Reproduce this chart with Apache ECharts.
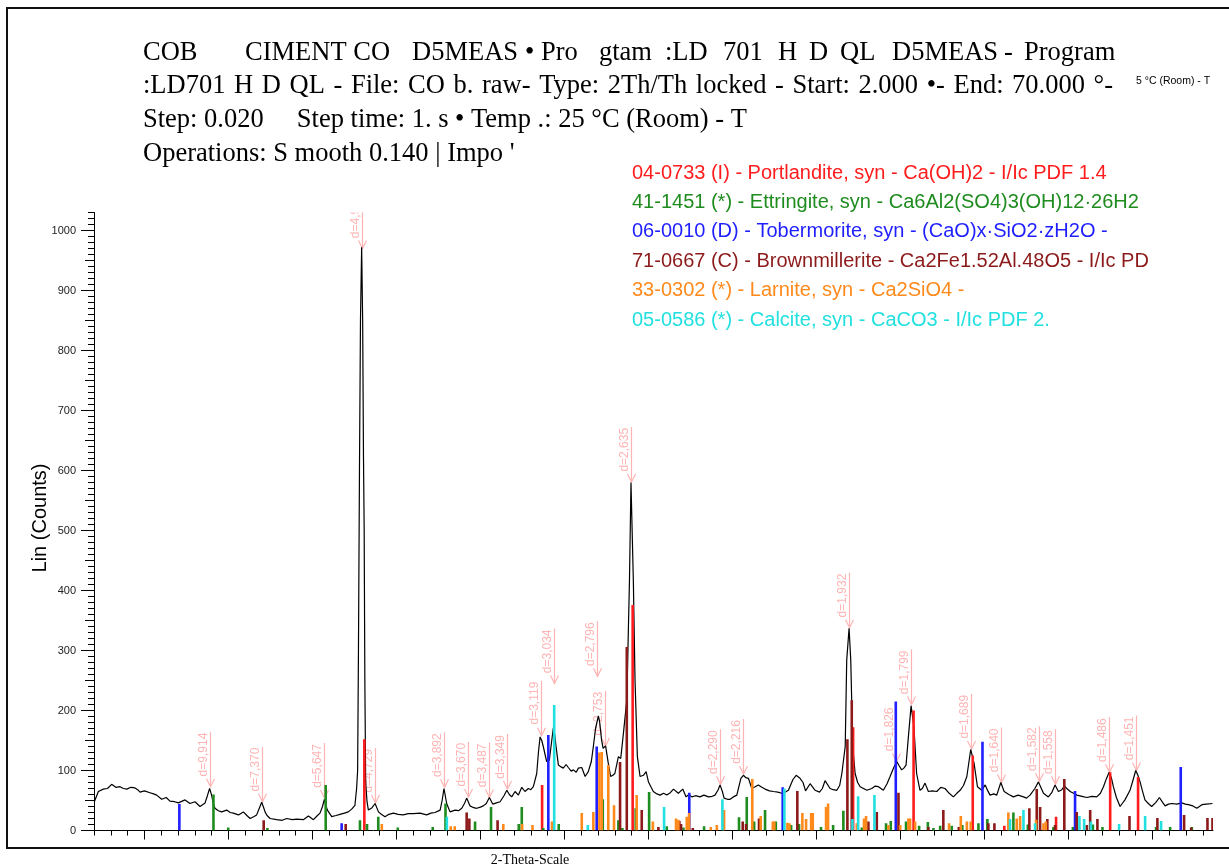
<!DOCTYPE html>
<html>
<head>
<meta charset="utf-8">
<script src="https://cdn.jsdelivr.net/npm/echarts@6/dist/echarts.min.js"></script>
<style>
  html, body { margin: 0; padding: 0; background: #ffffff; }
  #chart { width: 1229px; height: 868px; }
</style>
</head>
<body>
<div id="chart"></div>
<script>
// Diffractogram: [2-theta (deg), intensity (counts)]
const scan = [
  [2.02, 48], [2.06, 51], [2.26, 65], [2.55, 69], [2.8, 70], [3.05, 77], [3.3, 72], [3.55, 73], [3.75, 70],
  [3.95, 69], [4.2, 72], [4.44, 71], [4.6, 68], [4.74, 64], [5.0, 66], [5.33, 63], [5.55, 61], [5.73, 59],
  [6.03, 52], [6.3, 55], [6.52, 49], [6.8, 48], [7.02, 46], [7.25, 49], [7.42, 51], [7.71, 45], [8.01, 48],
  [8.31, 40], [8.61, 46], [8.75, 58], [8.88, 70], [9.0, 59], [9.1, 45], [9.2, 37], [9.4, 33], [9.6, 31],
  [9.9, 34], [10.1, 30], [10.29, 29], [10.6, 26], [10.89, 31], [11.1, 25], [11.29, 20], [11.5, 23],
  [11.68, 26], [11.85, 38], [11.98, 47], [12.1, 38], [12.18, 31], [12.3, 25], [12.48, 20], [12.87, 18],
  [13.2, 17], [13.47, 20], [13.8, 18], [14.07, 19], [14.46, 18], [14.76, 24], [15.06, 18], [15.3, 25],
  [15.45, 29], [15.6, 40], [15.71, 52], [15.8, 42], [15.89, 34], [16.15, 23], [16.4, 25], [16.64, 27],
  [16.9, 29], [17.14, 31], [17.35, 36], [17.53, 42], [17.63, 70], [17.69, 100], [17.74, 300], [17.8, 600],
  [17.86, 850], [17.93, 972], [17.99, 850], [18.04, 620], [18.08, 500], [18.12, 250], [18.17, 80],
  [18.25, 48], [18.33, 34], [18.55, 38], [18.73, 45], [18.93, 31], [19.1, 27], [19.32, 23], [19.55, 27],
  [19.82, 29], [20.1, 27], [20.41, 26], [20.7, 28], [21.01, 28], [21.4, 29], [21.8, 26], [22.05, 29],
  [22.3, 30], [22.6, 34], [22.72, 50], [22.83, 70], [22.99, 45], [23.19, 31], [23.49, 34], [23.7, 33],
  [23.89, 37], [24.05, 45], [24.18, 54], [24.38, 41], [24.6, 38], [24.78, 37], [25.0, 39], [25.17, 41],
  [25.35, 45], [25.53, 55], [25.73, 44], [25.95, 46], [26.17, 48], [26.4, 58], [26.57, 67], [26.72, 60],
  [26.86, 56], [27.06, 65], [27.26, 59], [27.46, 72], [27.65, 65], [27.85, 70], [28.0, 68], [28.15, 73],
  [28.35, 95], [28.45, 130], [28.55, 156], [28.65, 150], [28.74, 140], [28.94, 115], [29.1, 117],
  [29.2, 140], [29.34, 171], [29.42, 160], [29.5, 140], [29.64, 109], [29.8, 106], [29.93, 104],
  [30.1, 110], [30.23, 105], [30.4, 99], [30.53, 101], [30.7, 97], [30.83, 104], [31.03, 105], [31.23, 90],
  [31.42, 98], [31.6, 115], [31.72, 140], [31.85, 170], [32.02, 191], [32.1, 180], [32.21, 151],
  [32.3, 137], [32.45, 141], [32.61, 112], [32.75, 90], [32.88, 92], [33.0, 95], [33.21, 123],
  [33.35, 120], [33.51, 162], [33.71, 217], [33.87, 417], [33.96, 580], [34.1, 417], [34.2, 251],
  [34.34, 123], [34.5, 90], [34.7, 92], [34.86, 98], [35.0, 81], [35.29, 65], [35.5, 61], [35.69, 59],
  [35.9, 62], [36.09, 59], [36.3, 63], [36.49, 69], [36.78, 62], [37.04, 69], [37.24, 56], [37.4, 60],
  [37.58, 56], [37.8, 58], [38.07, 56], [38.3, 59], [38.57, 56], [38.8, 57], [38.96, 59], [39.15, 68],
  [39.26, 76], [39.4, 65], [39.5, 54], [39.7, 52], [39.86, 52], [40.05, 56], [40.26, 59], [40.5, 87],
  [40.65, 92], [40.8, 88], [40.95, 87], [41.15, 70], [41.35, 73], [41.54, 76], [41.75, 72], [41.94, 69],
  [42.2, 66], [42.44, 65], [42.7, 64], [42.93, 62], [43.15, 64], [43.33, 67], [43.6, 85], [43.79, 92],
  [44.02, 87], [44.2, 80], [44.35, 66], [44.62, 78], [44.92, 67], [45.18, 64], [45.35, 70], [45.51, 83],
  [45.81, 70], [46.0, 68], [46.21, 67], [46.38, 75], [46.51, 95], [46.71, 140], [46.8, 284], [46.94, 337],
  [47.04, 284], [47.16, 140], [47.3, 95], [47.45, 80], [47.6, 73], [47.8, 70], [48.0, 67], [48.29, 70],
  [48.5, 74], [48.69, 73], [48.98, 67], [49.2, 78], [49.38, 90], [49.6, 105], [49.78, 115], [49.92, 108],
  [50.07, 101], [50.2, 104], [50.33, 109], [50.47, 156], [50.63, 208], [50.8, 173], [50.96, 95],
  [51.16, 67], [51.3, 70], [51.46, 79], [51.66, 65], [51.9, 66], [52.16, 65], [52.4, 72], [52.65, 70],
  [52.9, 62], [53.15, 56], [53.35, 62], [53.55, 67], [53.75, 75], [53.95, 90], [54.18, 135], [54.38, 112],
  [54.58, 73], [54.84, 67], [55.04, 76], [55.2, 66], [55.33, 59], [55.55, 61], [55.73, 59], [55.97, 80],
  [56.17, 65], [56.45, 60], [56.72, 56], [57.0, 59], [57.32, 56], [57.5, 54], [57.71, 59], [58.0, 70],
  [58.21, 81], [58.35, 72], [58.51, 62], [58.8, 56], [59.0, 63], [59.2, 76], [59.4, 65], [59.6, 68],
  [59.76, 74], [59.9, 70], [60.1, 65], [60.3, 62], [60.5, 59], [60.8, 57], [61.09, 55], [61.4, 57],
  [61.68, 56], [61.9, 62], [62.08, 73], [62.25, 86], [62.42, 97], [62.55, 88], [62.67, 73], [62.85, 55],
  [63.07, 40], [63.2, 45], [63.36, 51], [63.66, 67], [63.85, 85], [64.0, 100], [64.13, 92], [64.26, 81],
  [64.4, 66], [64.55, 51], [64.75, 45], [64.95, 40], [65.2, 47], [65.41, 55], [65.6, 47], [65.75, 41],
  [65.95, 44], [66.15, 45], [66.45, 44], [66.74, 46], [66.95, 44], [67.14, 43], [67.4, 41], [67.64, 37],
  [67.94, 43], [68.2, 44], [68.57, 45]
];

// Reference patterns: [2-theta (deg), relative intensity in counts]
const portlandite = [
  [18.09, 152], [28.67, 76], [34.06, 376], [47.18, 172], [50.78, 200], [54.3, 125], [56.18, 8],
  [59.26, 23], [62.48, 97], [64.14, 89]
];
const ettringite = [
  [9.11, 60], [9.99, 5], [12.32, 4], [15.79, 76], [17.83, 17], [18.25, 11], [18.92, 23], [20.08, 5],
  [22.16, 6], [22.92, 45], [24.68, 15], [25.63, 39], [27.28, 11], [27.46, 39], [28.74, 4], [29.66, 11],
  [32.28, 52], [33.21, 17], [33.45, 4], [34.24, 37], [35.04, 64], [36.09, 7], [37.08, 5], [38.31, 7],
  [40.39, 22], [40.85, 56], [41.29, 15], [41.94, 34], [42.58, 15], [43.49, 9], [43.96, 11], [45.27, 6],
  [45.99, 9], [46.6, 33], [47.7, 5], [49.14, 12], [49.42, 16], [50.33, 15], [51.11, 8], [51.63, 14],
  [51.96, 4], [52.36, 8], [53.05, 8], [53.68, 9], [54.64, 12], [55.17, 19], [56.72, 30], [57.58, 10],
  [59.1, 6], [60.26, 6], [61.45, 10], [62.02, 6], [65.21, 6], [66.05, 6], [67.34, 6]
];
const tobermorite = [
  [7.08, 44], [16.74, 12], [29.04, 159], [31.92, 140], [37.43, 63], [42.99, 72], [49.72, 215],
  [54.88, 148], [60.39, 66], [66.68, 106]
];
const brownmillerite = [
  [12.1, 17], [16.98, 11], [24.18, 30], [24.34, 20], [26.02, 17], [33.31, 114], [33.71, 306], [34.6, 34],
  [35.59, 6], [36.84, 16], [36.94, 11], [37.64, 4], [40.61, 15], [40.81, 11], [41.58, 20], [43.86, 66],
  [46.84, 152], [47.1, 217], [48.09, 15], [48.59, 31], [49.88, 63], [51.66, 6], [52.55, 34], [53.47, 6],
  [55.23, 12], [55.59, 12], [57.67, 37], [58.11, 69], [58.31, 39], [58.74, 19], [59.2, 9], [59.75, 86],
  [60.49, 31], [61.09, 9], [61.29, 34], [61.72, 19], [63.63, 24], [65.29, 21], [66.88, 26], [67.3, 5],
  [68.27, 21], [68.57, 21]
];
const larnite = [
  [19.13, 11], [23.23, 7], [23.47, 7], [26.36, 11], [27.48, 11], [28.1, 9], [29.26, 15], [31.03, 29],
  [31.72, 31], [32.08, 130], [32.22, 131], [32.61, 109], [32.95, 42], [34.3, 59], [35.26, 15], [36.64, 20],
  [36.78, 18], [37.28, 23], [37.42, 29], [38.71, 6], [39.07, 9], [39.5, 34], [41.18, 86], [41.68, 24],
  [42.4, 15], [42.49, 15], [43.27, 13], [43.39, 12], [44.16, 29], [44.38, 19], [44.68, 29], [44.78, 29],
  [45.57, 39], [45.69, 45], [47.4, 12], [47.83, 20], [47.95, 24], [49.28, 9], [49.98, 9], [50.47, 20],
  [50.57, 20], [50.87, 15], [52.89, 12], [53.59, 24], [53.95, 15], [54.18, 15], [56.42, 30], [56.92, 20],
  [57.12, 24], [58.07, 18], [58.51, 12], [58.65, 15]
];
const calcite = [
  [23.0, 23], [29.39, 209], [31.39, 9], [35.93, 39], [39.4, 52], [43.09, 70], [47.14, 19], [47.48, 57],
  [48.45, 59], [56.52, 19], [57.32, 34], [58.01, 12], [60.65, 24], [60.93, 19], [61.33, 15], [63.01, 11],
  [64.56, 24], [65.51, 16]
];

// Marked reflections: [2-theta, counts at arrow tip, label]
const peakLabels = [
  [8.91, 73, 'd=9,914'], [12.0, 48, 'd=7,370'], [15.68, 54, 'd=5,647'], [17.93, 970, 'd=4,944'],
  [18.75, 46, 'd=4,729'], [22.83, 72, 'd=3,892'], [24.23, 56, 'd=3,670'], [25.52, 55, 'd=3,487'],
  [26.6, 69, 'd=3,349'], [28.59, 158, 'd=3,119'], [29.38, 245, 'd=3,034'], [31.96, 257, 'd=2,796'],
  [32.42, 141, 'd=2,753'], [33.96, 581, 'd=2,635'], [39.27, 77, 'd=2,290'], [40.65, 94, 'd=2,216'],
  [46.94, 338, 'd=1,932'], [49.74, 115, 'd=1,826'], [50.65, 210, 'd=1,799'], [54.2, 136, 'd=1,689'],
  [55.97, 80, 'd=1,640'], [58.23, 82, 'd=1,582'], [59.2, 77, 'd=1,558'], [62.42, 97, 'd=1,486'],
  [64.02, 100, 'd=1,451']
];

const phaseLegend = [
  ['04-0733 (I) - Portlandite, syn - Ca(OH)2 - I/Ic PDF 1.4', '#ff1c1c'],
  ['41-1451 (*) - Ettringite, syn - Ca6Al2(SO4)3(OH)12·26H2', '#1f8c1f'],
  ['06-0010 (D) - Tobermorite, syn - (CaO)x·SiO2·zH2O -', '#1f1fff'],
  ['71-0667 (C) - Brownmillerite - Ca2Fe1.52Al.48O5 - I/Ic PD', '#8c1a1a'],
  ['33-0302 (*) - Larnite, syn - Ca2SiO4 -', '#ff8a1c'],
  ['05-0586 (*) - Calcite, syn - CaCO3 - I/Ic PDF 2.', '#22e0e0']
];

const yTickLabels = [0, 100, 200, 300, 400, 500, 600, 700, 800, 900, 1000];
const xMajorTicks = [5, 10, 15, 20, 25, 30, 35, 40, 45, 50, 55, 60, 65];

const X_MIN = 2, X_MAX = 68.6, Y_MAX = 1030;
const PINK = '#ffb4b4';

const xMinorTicks = [];
for (let v = 2; v <= 68; v++) xMinorTicks.push(v);
const yMinorTicks = [];
for (let v = 0; v <= Y_MAX; v += 10) yMinorTicks.push(v);
const yMidTicks = [];
for (let v = 50; v <= 1000; v += 100) yMidTicks.push(v);

function stickSeries(name, data, color) {
  return {
    type: 'custom',
    name: name,
    data: data,
    clip: true,
    z: 5,
    silent: true,
    renderItem: function (params, api) {
      const base = api.coord([api.value(0), 0]);
      const top = api.coord([api.value(0), api.value(1)]);
      return {
        type: 'rect',
        shape: { x: base[0] - 1.3, y: top[1], width: 2.6, height: base[1] - top[1] },
        style: { fill: color }
      };
    }
  };
}

// Pink d-spacing markers: vertical leader, arrow head at the peak, rotated label
const labelSeries = {
  type: 'custom',
  data: peakLabels.map(p => [p[0], p[1]]),
  clip: true,
  z: 1,
  silent: true,
  renderItem: function (params, api) {
    const p = api.coord([api.value(0), api.value(1)]);
    const x = Math.round(p[0]) + 0.5;
    const y = p[1];
    const len = 55;
    return {
      type: 'group',
      children: [
        { type: 'line', shape: { x1: x, y1: y - len, x2: x, y2: y }, style: { stroke: PINK, lineWidth: 1.2 } },
        { type: 'polyline', shape: { points: [[x - 4, y - 8], [x, y], [x + 4, y - 8]] },
          style: { stroke: PINK, fill: null, lineWidth: 1.2 } },
        { type: 'text', x: x - 6.5, y: y - len + 1, rotation: Math.PI / 2,
          style: { text: peakLabels[params.dataIndex][2], align: 'right', verticalAlign: 'middle',
                   fill: PINK, font: '12px "Liberation Sans", Arial, sans-serif' } }
      ]
    };
  }
};

const serif = '"Liberation Serif", "Times New Roman", serif';
const sans = '"Liberation Sans", Arial, sans-serif';
const TITLE_FONT = '26.5px ' + serif;

function titleText(x, y, text) {
  return { type: 'text', x: x, y: y, style: { text: text, font: TITLE_FONT, fill: '#000',
           verticalAlign: 'middle' } };
}

// Spread the words of a header line evenly between two x positions
const measureCtx = document.createElement('canvas').getContext('2d');
function justifiedLine(text, x0, x1, y) {
  measureCtx.font = TITLE_FONT;
  const words = text.split(' ');
  const widths = words.map(w => measureCtx.measureText(w).width);
  const total = widths.reduce((a, b) => a + b, 0);
  const gap = (x1 - x0 - total) / (words.length - 1);
  const out = [];
  let x = x0;
  words.forEach(function (w, i) {
    out.push(titleText(x, y, w));
    x += widths[i] + gap;
  });
  return out;
}

const graphics = [
  { type: 'rect', shape: { x: 7, y: 8, width: 1250, height: 840 }, style: { fill: null, stroke: '#111', lineWidth: 2 } },
  titleText(143, 53, 'COB'),
  titleText(245, 53, 'CIMENT CO'),
  titleText(412, 53, 'D5MEAS'),
  titleText(525, 53, '•'),
  titleText(541, 53, 'Pro'),
  titleText(599, 53, 'gtam'),
  titleText(665, 53, ':LD'),
  titleText(723, 53, '701'),
  titleText(778, 53, 'H'),
  titleText(809, 53, 'D'),
  titleText(840, 53, 'QL'),
  titleText(892, 53, 'D5MEAS'),
  titleText(1004, 53, '-'),
  titleText(1024, 53, 'Program'),
  titleText(143, 120, 'Step: 0.020     Step time: 1. s • Temp .: 25 °C (Room) - T'),
  titleText(143, 154, 'Operations: S mooth 0.140 | Impo \''),
  { type: 'text', x: 1136, y: 81, style: { text: '5 °C (Room) - T', font: '10.5px ' + sans, fill: '#000', verticalAlign: 'middle' } },
  { type: 'text', x: 40, y: 518, rotation: Math.PI / 2,
    style: { text: 'Lin (Counts)', font: '20px ' + sans, fill: '#000', align: 'center', verticalAlign: 'middle' } },
  { type: 'text', x: 530, y: 860, style: { text: '2-Theta-Scale', font: '14px ' + serif, fill: '#000',
    align: 'center', verticalAlign: 'middle' } }
].concat(justifiedLine(':LD701 H D QL - File: CO b. raw- Type: 2Th/Th locked - Start: 2.000 •- End: 70.000 °-',
                       143, 1113, 86));
phaseLegend.forEach(function (item, i) {
  graphics.push({ type: 'text', x: 632, y: 173 + i * 29.4,
    style: { text: item[0], font: '20px ' + sans, fill: item[1], verticalAlign: 'middle' } });
});

const axisLineStyle = { color: '#000', width: 1 };
const chart = echarts.init(document.getElementById('chart'), null, { renderer: 'canvas' });
chart.setOption({
  animation: false,
  backgroundColor: '#ffffff',
  grid: { left: 94, right: 16, top: 212.5, bottom: 37.5, containLabel: false },
  xAxis: [
    { type: 'value', min: X_MIN, max: X_MAX, position: 'bottom',
      axisLine: { show: true, onZero: false, lineStyle: axisLineStyle },
      axisTick: { show: true, customValues: xMinorTicks, length: 5, lineStyle: axisLineStyle },
      axisLabel: { show: false }, splitLine: { show: false } },
    { type: 'value', min: X_MIN, max: X_MAX, position: 'bottom',
      axisLine: { show: false, onZero: false },
      axisTick: { show: true, customValues: xMajorTicks, length: 9, lineStyle: axisLineStyle },
      axisLabel: { show: false }, splitLine: { show: false } }
  ],
  yAxis: [
    { type: 'value', min: 0, max: Y_MAX, position: 'left',
      axisLine: { show: true, onZero: false, lineStyle: axisLineStyle },
      axisTick: { show: true, customValues: yMinorTicks, length: 6, lineStyle: axisLineStyle },
      axisLabel: { show: false }, splitLine: { show: false } },
    { type: 'value', min: 0, max: Y_MAX, position: 'left',
      axisLine: { show: false, onZero: false },
      axisTick: { show: true, customValues: yMidTicks, length: 9, lineStyle: axisLineStyle },
      axisLabel: { show: false }, splitLine: { show: false } },
    { type: 'value', min: 0, max: Y_MAX, position: 'left',
      axisLine: { show: false, onZero: false },
      axisTick: { show: true, customValues: yTickLabels, length: 13, lineStyle: axisLineStyle },
      axisLabel: { show: true, customValues: yTickLabels, margin: 18, color: '#222',
                   fontSize: 11, fontFamily: 'Liberation Sans',
                   formatter: function (v) { return String(v); } },
      splitLine: { show: false } }
  ],
  series: [
    labelSeries,
    { type: 'line', data: scan, showSymbol: false, symbol: 'none', z: 3, clip: true, silent: true,
      lineStyle: { color: '#000', width: 1.2 } },
    stickSeries('Portlandite', portlandite, phaseLegend[0][1]),
    stickSeries('Ettringite', ettringite, phaseLegend[1][1]),
    stickSeries('Tobermorite', tobermorite, phaseLegend[2][1]),
    stickSeries('Brownmillerite', brownmillerite, phaseLegend[3][1]),
    stickSeries('Larnite', larnite, phaseLegend[4][1]),
    stickSeries('Calcite', calcite, phaseLegend[5][1])
  ],
  graphic: graphics
});
</script>
</body>
</html>
